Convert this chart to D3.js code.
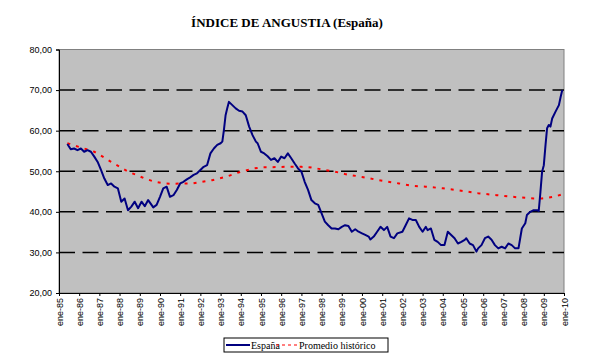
<!DOCTYPE html>
<html>
<head>
<meta charset="utf-8">
<script src="https://cdn.jsdelivr.net/npm/d3@7"></script>
<style>
  body { margin: 0; background: #fff; }
  svg { display: block; }
</style>
</head>
<body>
<svg id="chart"></svg>
<script>
// Serie mensual España
const fechasEspana = [
  "1985-06","1985-08","1985-10","1985-12","1986-02","1986-04","1986-06","1986-08","1986-10","1986-12",
  "1987-02","1987-04","1987-06","1987-08","1987-10","1987-12","1988-02","1988-04","1988-06","1988-08",
  "1988-10","1988-12","1989-02","1989-04","1989-06","1989-08","1989-09","1989-11","1990-01","1990-03",
  "1990-05","1990-07","1990-09","1990-11","1991-01","1991-03","1991-05","1991-07","1991-09","1991-11",
  "1992-01","1992-03","1992-05","1992-07","1992-09","1992-11","1993-01","1993-02","1993-03","1993-04",
  "1993-05","1993-06","1993-08","1993-10","1993-12","1994-02","1994-04","1994-06","1994-08","1994-10",
  "1994-11","1995-01","1995-03","1995-05","1995-07","1995-09","1995-11","1996-01","1996-03","1996-05",
  "1996-07","1996-09","1996-11","1997-01","1997-03","1997-05","1997-07","1997-09","1997-11","1998-01",
  "1998-03","1998-05","1998-07","1998-09","1998-11","1999-01","1999-03","1999-05","1999-07","1999-09",
  "1999-11","2000-01","2000-03","2000-05","2000-06","2000-08","2000-10","2000-12","2001-02","2001-04",
  "2001-06","2001-08","2001-10","2002-01","2002-03","2002-05","2002-07","2002-09","2002-11","2003-01",
  "2003-03","2003-04","2003-06","2003-08","2003-10","2003-12","2004-02","2004-04","2004-06","2004-08",
  "2004-10","2004-12","2005-02","2005-03","2005-05","2005-07","2005-09","2005-10","2005-12","2006-02",
  "2006-04","2006-06","2006-08","2006-10","2006-12","2007-02","2007-04","2007-06","2007-08","2007-10",
  "2007-11","2007-12","2008-02","2008-03","2008-05","2008-07","2008-09","2008-10","2008-11","2008-12",
  "2009-01","2009-02","2009-03","2009-04","2009-05","2009-06","2009-08","2009-10","2009-11","2009-12"
];
const valoresEspana = [
  56.7, 55.4, 55.6, 55.2, 55.6, 54.8, 55.2, 54.8, 53.6, 52.3,
  50.3, 48.2, 46.6, 47.0, 46.2, 45.8, 42.5, 43.3, 40.4, 41.3,
  42.5, 40.9, 42.5, 41.4, 42.9, 41.7, 41.1, 41.7, 43.7, 45.8,
  46.2, 43.7, 44.1, 45.4, 47.0, 47.4, 48.0, 48.5, 49.1, 49.5,
  50.3, 51.1, 51.5, 54.4, 55.6, 56.5, 56.9, 57.3, 60.1, 63.8,
  65.5, 67.1, 66.3, 65.5, 64.9, 64.7, 63.8, 61.0, 58.9, 57.3,
  56.9, 54.8, 54.4, 53.7, 52.8, 53.2, 52.3, 53.6, 53.2, 54.4,
  53.2, 51.9, 50.7, 49.9, 47.4, 45.4, 42.9, 42.1, 41.7, 39.6,
  37.6, 36.7, 35.9, 35.9, 35.7, 36.3, 36.7, 36.5, 35.1, 35.7,
  35.1, 34.7, 34.3, 33.9, 33.2, 33.9, 35.1, 36.3, 35.5, 36.3,
  33.9, 33.5, 34.7, 35.1, 36.7, 38.4, 38.0, 38.0, 36.3, 35.1,
  36.3, 35.5, 35.9, 33.1, 32.6, 31.8, 31.8, 35.1, 34.3, 33.5,
  32.2, 32.6, 33.1, 33.5, 32.2, 31.8, 30.2, 31.0, 31.8, 33.5,
  33.9, 33.1, 31.8, 31.0, 31.4, 31.0, 32.2, 31.8, 31.0, 31.0,
  33.5, 35.9, 37.2, 39.2, 40.0, 40.4, 40.4, 40.2, 44.9, 49.9,
  51.5, 56.5, 60.6, 61.4, 61.0, 63.0, 64.7, 66.3, 68.3, 70.0
];

// Promedio histórico
const fechasPromedio = [
  "1985-06","1986-04","1986-10","1987-03","1987-08","1988-01","1988-06","1988-11","1989-04","1989-10",
  "1990-04","1990-09","1991-02","1991-08","1992-02","1992-08","1993-04","1993-11","1994-03","1994-09",
  "1995-02","1995-07","1996-05","1997-01","1997-07","1998-02","1998-09","1999-03","2000-01","2000-11",
  "2001-11","2002-07","2003-03","2004-01","2004-12","2005-10","2006-09","2007-09","2008-07","2008-12",
  "2009-07","2009-12"
];
const valoresPromedio = [
  56.9, 55.6, 54.8, 53.6, 52.3, 51.1, 49.9, 49.1, 48.2, 47.4,
  47.0, 46.9, 47.0, 47.0, 47.4, 47.8, 48.6, 49.6, 50.1, 50.7,
  51.0, 51.0, 51.1, 51.1, 50.9, 50.4, 49.9, 49.3, 48.6, 47.8,
  47.0, 46.4, 46.2, 45.8, 45.2, 44.6, 44.1, 43.6, 43.3, 43.3,
  43.7, 44.3
];

const etiquetasX = [
  "ene-85","ene-86","ene-87","ene-88","ene-89","ene-90","ene-91","ene-92","ene-93",
  "ene-94","ene-95","ene-96","ene-97","ene-98","ene-99","ene-00","ene-01","ene-02",
  "ene-03","ene-04","ene-05","ene-06","ene-07","ene-08","ene-09","ene-10"
];
const ticksY = [20, 30, 40, 50, 60, 70, 80];

const width = 593, height = 364;
const plot = { left: 59, right: 564, top: 49.5, bottom: 293 };
const parseMes = d3.timeParse("%Y-%m");
const coma = d3.formatLocale({ decimal: ",", thousands: ".", grouping: [3], currency: ["", "€"] }).format(".2f");

const svg = d3.select("#chart").attr("width", width).attr("height", height);

svg.append("rect").attr("width", width).attr("height", height).attr("fill", "#fff");

const x = d3.scaleTime()
  .domain([new Date(1985, 0, 1), new Date(2010, 0, 1)])
  .range([plot.left, plot.right]);

const y = d3.scaleLinear()
  .domain([20, 80])
  .range([plot.bottom, plot.top]);

// area del gráfico
svg.append("rect")
  .attr("x", plot.left)
  .attr("y", plot.top)
  .attr("width", plot.right - plot.left)
  .attr("height", plot.bottom - plot.top)
  .attr("fill", "#c0c0c0")
  .attr("stroke", "#808080")
  .attr("stroke-width", 1);

// lineas de division
svg.append("g")
  .selectAll("line")
  .data(ticksY.filter((d) => d > 20 && d < 80))
  .join("line")
  .attr("x1", plot.left)
  .attr("x2", plot.right)
  .attr("y1", (d) => y(d))
  .attr("y2", (d) => y(d))
  .attr("stroke", "#000")
  .attr("stroke-width", 1.5)
  .attr("stroke-dasharray", "16,7.5");

// eje Y
const ejeY = svg.append("g")
  .attr("transform", `translate(${plot.left},0)`)
  .call(d3.axisLeft(y).tickValues(ticksY).tickFormat(coma).tickSize(3).tickPadding(4));
ejeY.select(".domain").attr("stroke", "#000");
ejeY.selectAll("text")
  .attr("font-family", "Liberation Sans, Arial, sans-serif")
  .attr("font-size", 9)
  .attr("fill", "#000");

// eje X
const fechasX = etiquetasX.map((_, i) => new Date(1985 + i, 0, 1));
const ejeX = svg.append("g")
  .attr("transform", `translate(0,${plot.bottom})`)
  .call(d3.axisBottom(x).tickValues(fechasX).tickFormat((d, i) => etiquetasX[i]).tickSize(3).tickPadding(2));
ejeX.select(".domain").attr("stroke", "#000");
ejeX.selectAll("text")
  .attr("font-family", "Liberation Sans, Arial, sans-serif")
  .attr("font-size", 9)
  .attr("fill", "#000")
  .attr("text-anchor", "end")
  .attr("transform", "rotate(-90)")
  .attr("x", -5)
  .attr("y", 0)
  .attr("dy", "0.35em");

// series
const linea = d3.line()
  .x((d) => x(d.fecha))
  .y((d) => y(d.valor));

const datosEspana = fechasEspana.map((f, i) => ({ fecha: parseMes(f), valor: valoresEspana[i] }));
const datosPromedio = fechasPromedio.map((f, i) => ({ fecha: parseMes(f), valor: valoresPromedio[i] }));

svg.append("path")
  .datum(datosPromedio)
  .attr("d", linea)
  .attr("fill", "none")
  .attr("stroke", "#ff0000")
  .attr("stroke-width", 2)
  .attr("stroke-dasharray", "3,6");

svg.append("path")
  .datum(datosEspana)
  .attr("d", linea)
  .attr("fill", "none")
  .attr("stroke", "#000080")
  .attr("stroke-width", 2)
  .attr("stroke-linejoin", "round");

// titulo
svg.append("text")
  .attr("x", 287)
  .attr("y", 27)
  .attr("text-anchor", "middle")
  .attr("font-family", "Liberation Serif, Times New Roman, serif")
  .attr("font-weight", "bold")
  .attr("font-size", 13)
  .text("ÍNDICE DE ANGUSTIA (España)");

// leyenda
const leyenda = svg.append("g").attr("transform", "translate(224,338)");
leyenda.append("rect")
  .attr("width", 164)
  .attr("height", 14)
  .attr("fill", "#fff")
  .attr("stroke", "#000")
  .attr("stroke-width", 1);
leyenda.append("line")
  .attr("x1", 2).attr("x2", 26).attr("y1", 7).attr("y2", 7)
  .attr("stroke", "#000080").attr("stroke-width", 2);
leyenda.append("text")
  .attr("x", 27).attr("y", 10.5)
  .attr("font-family", "Liberation Serif, Times New Roman, serif")
  .attr("font-size", 10)
  .text("España");
leyenda.append("line")
  .attr("x1", 52).attr("x2", 73).attr("y1", 7).attr("y2", 7)
  .attr("stroke", "#ff0000").attr("stroke-width", 1)
  .attr("stroke-dasharray", "3,3");
leyenda.append("text")
  .attr("x", 75).attr("y", 10.5)
  .attr("font-family", "Liberation Serif, Times New Roman, serif")
  .attr("font-size", 10)
  .text("Promedio histórico");
</script>
</body>
</html>
